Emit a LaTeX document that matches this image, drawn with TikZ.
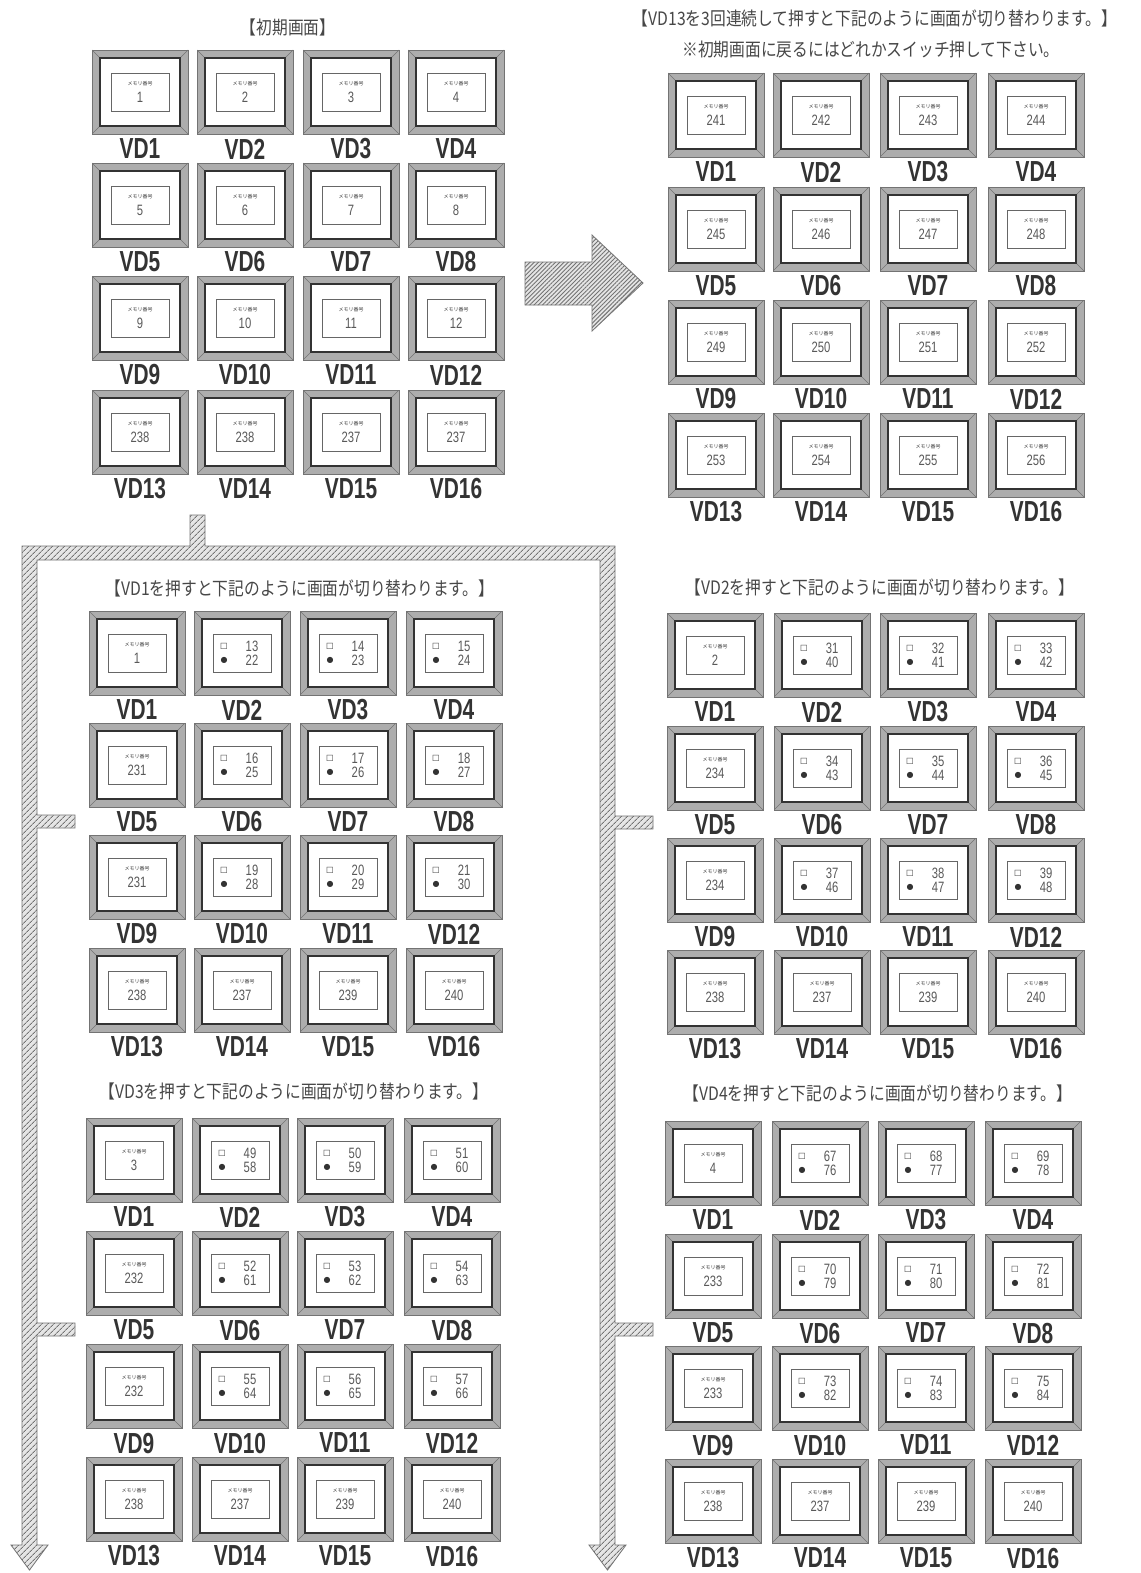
\documentclass[tikz,border=0pt]{standalone}
\usepackage{fontspec}
\usetikzlibrary{patterns.meta,calc}
\setmainfont{Liberation Sans}
\newfontfamily\jpfont[FakeStretch=0.85]{Noto Sans CJK JP}
\newfontfamily\jpsmall{Noto Sans CJK JP}
\newfontfamily\vdfont[FakeStretch=0.72]{Liberation Sans}
\newfontfamily\numfont[FakeStretch=0.75]{Liberation Sans}
\newfontfamily\symfont{DejaVu Sans}
\def\pc{path picture bounding box.center}
\tikzset{
  btnframe/.style={draw=black!55, line width=0.8pt, fill=black!32,
    minimum width=96pt, minimum height=84pt, inner sep=0pt,
    path picture={
      \draw[black!55,line width=0.6pt] ([shift={(-48pt,-42pt)}]\pc) -- ([shift={(-40pt,-34pt)}]\pc)
        ([shift={(48pt,-42pt)}]\pc) -- ([shift={(40pt,-34pt)}]\pc)
        ([shift={(-48pt,42pt)}]\pc) -- ([shift={(-40pt,34pt)}]\pc)
        ([shift={(48pt,42pt)}]\pc) -- ([shift={(40pt,34pt)}]\pc);
      \draw[black!80,line width=2.6pt,fill=white] ([shift={(-40pt,-34pt)}]\pc) rectangle ([shift={(40pt,34pt)}]\pc);
      \draw[black!60,line width=0.7pt] ([shift={(-29pt,-19pt)}]\pc) rectangle ([shift={(29pt,19pt)}]\pc);
    }},
  vdlbl/.style={font=\vdfont\bfseries\fontsize{29}{30}\selectfont, text=black!80, inner sep=0pt},
  memlbl/.style={font=\jpsmall\fontsize{5}{5}\selectfont, text=black!75, inner sep=0pt},
  numlbl/.style={font=\numfont\fontsize{15}{15}\selectfont, text=black!65, inner sep=0pt},
  symlbl/.style={font=\symfont\fontsize{8}{8}\selectfont, text=black!80, inner sep=0pt},
  ttl/.style={font=\jpfont\fontsize{18.5}{20}\selectfont, text=black!72, inner sep=0pt},
  hatch/.style={draw=black!55, line width=0.8pt, preaction={fill=black!10},
    pattern={Lines[angle=45,distance=4pt,line width=1pt]}, pattern color=black!55},
}
\newcommand\mbtn[4]{%
  \node[btnframe] (#1) at (#2,#3) {};
  \node[memlbl] (#1m) at ([yshift=8pt]#1) {メモリ番号};
  \node[numlbl] (#1n) at ([yshift=-5pt]#1) {#4};
}
\newcommand\dbtn[5]{%
  \node[btnframe] (#1) at (#2,#3) {};
  \node[symlbl] (#1a) at ([xshift=-18pt,yshift=7pt]#1) {□};
  \node[symlbl] (#1b) at ([xshift=-18pt,yshift=-7pt]#1) {●};
  \node[numlbl] (#1c) at ([xshift=10pt,yshift=7pt]#1) {#4};
  \node[numlbl] (#1d) at ([xshift=10pt,yshift=-7pt]#1) {#5};
}
\newcommand\drawpanel[4]{%
  \foreach \t/\p/\q [count=\n] in {#4} {
    \pgfmathtruncatemacro\col{mod(\n-1,4)}
    \pgfmathtruncatemacro\row{div(\n-1,4)}
    \pgfmathsetmacro\bx{{#2}[\col]}
    \pgfmathsetmacro\by{{#3}[\row]}
    \if m\t \mbtn{#1\n}{\bx}{\by}{\p}\else \dbtn{#1\n}{\bx}{\by}{\p}{\q}\fi
    \node[vdlbl] (L#1\n) at (\bx,\by+57) {VD\n};
  }
}
\begin{document}
\begin{tikzpicture}[x=1pt,y=-1pt]
\fill[white] (0,0) rectangle (1140,1573);
\useasboundingbox (0,0) rectangle (1140,1573);

% titles
\node[ttl] (tA) at (288,27) {【初期画面】};
\node[ttl] (tB1) at (875,18) {【VD13を3回連続して押すと下記のように画面が切り替わります。】};
\node[ttl] (tB2) at (871,50) {※初期画面に戻るにはどれかスイッチ押して下さい。};
\node[ttl] (tC) at (300,588) {【VD1を押すと下記のように画面が切り替わります。】};
\node[ttl] (tD) at (294,1091) {【VD3を押すと下記のように画面が切り替わります。】};
\node[ttl] (tE) at (880,587) {【VD2を押すと下記のように画面が切り替わります。】};
\node[ttl] (tF) at (878,1093) {【VD4を押すと下記のように画面が切り替わります。】};

% panels
\drawpanel{A}{140,245,351,456}{92,205,318,432}{m/1/0,m/2/0,m/3/0,m/4/0,m/5/0,m/6/0,m/7/0,m/8/0,m/9/0,m/10/0,m/11/0,m/12/0,m/238/0,m/238/0,m/237/0,m/237/0}
\drawpanel{B}{716,821,928,1036}{115,229,342,455}{m/241/0,m/242/0,m/243/0,m/244/0,m/245/0,m/246/0,m/247/0,m/248/0,m/249/0,m/250/0,m/251/0,m/252/0,m/253/0,m/254/0,m/255/0,m/256/0}
\drawpanel{C}{137,242,348,454}{653,765,877,990}{m/1/0,d/13/22,d/14/23,d/15/24,m/231/0,d/16/25,d/17/26,d/18/27,m/231/0,d/19/28,d/20/29,d/21/30,m/238/0,m/237/0,m/239/0,m/240/0}
\drawpanel{D}{134,240,345,452}{1160,1273,1386,1499}{m/3/0,d/49/58,d/50/59,d/51/60,m/232/0,d/52/61,d/53/62,d/54/63,m/232/0,d/55/64,d/56/65,d/57/66,m/238/0,m/237/0,m/239/0,m/240/0}
\drawpanel{E}{715,822,928,1036}{655,768,880,992}{m/2/0,d/31/40,d/32/41,d/33/42,m/234/0,d/34/43,d/35/44,d/36/45,m/234/0,d/37/46,d/38/47,d/39/48,m/238/0,m/237/0,m/239/0,m/240/0}
\drawpanel{F}{713,820,926,1033}{1163,1276,1388,1501}{m/4/0,d/67/76,d/68/77,d/69/78,m/233/0,d/70/79,d/71/80,d/72/81,m/233/0,d/73/82,d/74/83,d/75/84,m/238/0,m/237/0,m/239/0,m/240/0}

% big arrow to panel B
\draw[hatch,pattern={Lines[angle=45,distance=3pt,line width=0.9pt]}] (525,262) -- (592,262) -- (592,235) -- (643,283) -- (592,331) -- (592,305) -- (525,305) -- cycle;

% hatched pipe from panel A to the other panels
\draw[hatch] (190,515) -- (205,515) -- (205,546) -- (615,546) -- (615,816) -- (653,816) -- (653,829) -- (615,829)
  -- (615,1323) -- (653,1323) -- (653,1336) -- (615,1336) -- (615,1545) -- (626,1545) -- (607.5,1570) -- (589,1545)
  -- (600,1545) -- (600,560) -- (37,560) -- (37,815) -- (75,815) -- (75,828) -- (37,828) -- (37,1323) -- (75,1323)
  -- (75,1336) -- (37,1336) -- (37,1545) -- (48,1545) -- (29.5,1570) -- (11,1545) -- (22,1545) -- (22,546) -- (190,546) -- cycle;
\end{tikzpicture}
\end{document}
